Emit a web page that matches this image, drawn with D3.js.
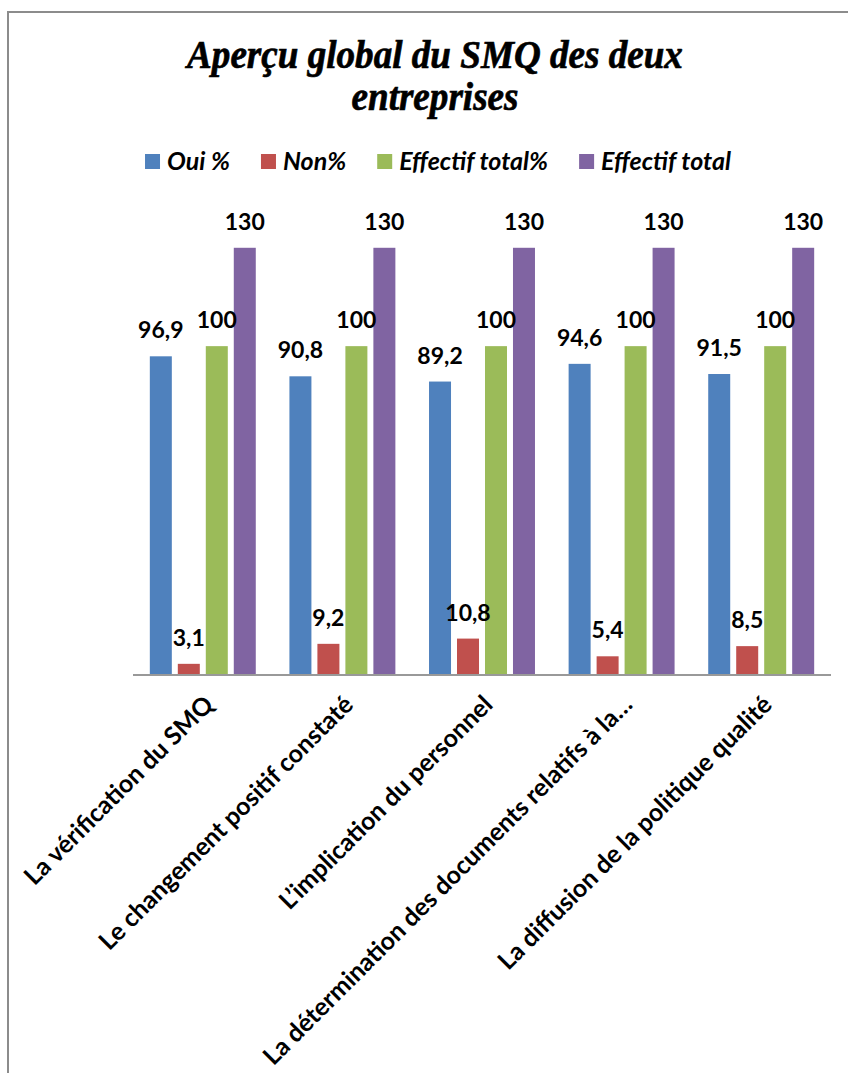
<!DOCTYPE html>
<meta charset="utf-8">
<style>
body { margin: 0; background: #fff; }
svg { display: block; }
.val { font-family: Lato, sans-serif; font-weight: bold; font-size: 23px; text-anchor: middle; fill: #000; }
.cat { font-family: Lato, sans-serif; font-weight: bold; font-size: 25px; text-anchor: end; fill: #000; }
.leg { font-family: Lato, sans-serif; font-style: italic; font-weight: bold; font-size: 25px; fill: #000; }
.title { font-family: "Liberation Serif", "Times New Roman", "DejaVu Serif", serif; font-style: italic; font-weight: bold; font-size: 41px; text-anchor: middle; fill: #000; stroke: #000; stroke-width: 0.7px; }
</style>
<svg width="848" height="1073"></svg>
<script src="https://cdn.jsdelivr.net/npm/d3@7"></script>
<script>

var categories = ["La vérification du SMQ", "Le changement positif constaté",
    "L\u2019implication du personnel", "La détermination des documents relatifs à la\u2026",
    "La diffusion de la politique qualité"];
var seriesNames = ["Oui %", "Non%", "Effectif total%", "Effectif total"];
var oui = [96.9, 90.8, 89.2, 94.6, 91.5];
var non = [3.1, 9.2, 10.8, 5.4, 8.5];
var effectifPct = [100, 100, 100, 100, 100];
var effectif = [130, 130, 130, 130, 130];
var colors = ["#4F81BD", "#C0504D", "#9BBB59", "#8064A2"];

var series = [oui, non, effectifPct, effectif];

var svg = d3.select("svg");

// chart frame (cut off at right and bottom like the source)
svg.append("rect")
    .attr("x", 8).attr("y", 12)
    .attr("width", 900).attr("height", 1100)
    .attr("fill", "none")
    .attr("stroke", "#8c8c8c")
    .attr("stroke-width", 2);

// title, horizontally squeezed
var tg = svg.append("g");
var t1 = tg.append("text").attr("class", "title").attr("x", 0).attr("y", 68)
    .text("Aperçu global du SMQ des deux");
tg.append("text").attr("class", "title").attr("x", 0).attr("y", 110)
    .text("entreprises");
var sx = 496 / t1.node().getComputedTextLength();
tg.attr("transform", "translate(435,0) scale(" + sx + ",1)");

// legend
var legend = svg.append("g");
var lx = 0;
seriesNames.forEach(function(name, i) {
    var item = legend.append("g").attr("transform", "translate(" + lx + ",0)");
    item.append("rect").attr("x", 0).attr("y", 154).attr("width", 15).attr("height", 15)
        .attr("fill", colors[i]);
    var t = item.append("text").attr("class", "leg").attr("x", 22).attr("y", 170).text(name);
    lx += 22 + t.node().getComputedTextLength() + 31;
});
lx -= 31;
legend.attr("transform", "translate(" + (141 + (594 - lx) / 2) + ",0)");

var x0 = d3.scaleBand()
    .domain(categories)
    .range([133, 831])
    .paddingInner(0.241)
    .paddingOuter(0.1205);

var x1 = d3.scaleBand()
    .domain(d3.range(series.length))
    .range([0, x0.bandwidth()])
    .paddingInner(0.214);

var y = d3.scaleLinear().domain([0, 140]).range([674, 215]);

var groups = svg.selectAll(".grp")
    .data(categories)
    .enter().append("g")
    .attr("class", "grp")
    .attr("transform", function(d) { return "translate(" + x0(d) + ",0)"; });

groups.each(function(cat, ci) {
    var g = d3.select(this);
    var vals = series.map(function(s, si) { return { si: si, v: s[ci] }; });
    g.selectAll("rect")
        .data(vals)
        .enter().append("rect")
        .attr("x", function(d) { return x1(d.si); })
        .attr("y", function(d) { return y(d.v); })
        .attr("width", x1.bandwidth())
        .attr("height", function(d) { return y(0) - y(d.v); })
        .attr("fill", function(d) { return colors[d.si]; });
    g.selectAll("text.val")
        .data(vals)
        .enter().append("text")
        .attr("class", "val")
        .attr("x", function(d) { return x1(d.si) + x1.bandwidth() / 2; })
        .attr("y", function(d) { return y(d.v) - 18; })
        .text(function(d) { return String(d.v).replace(".", ","); });
});

// axis line
svg.append("line")
    .attr("x1", x0.range()[0]).attr("x2", x0.range()[1])
    .attr("y1", y(0) + 1).attr("y2", y(0) + 1)
    .attr("stroke", "#999").attr("stroke-width", 2);

// rotated category labels
svg.selectAll(".cat")
    .data(categories)
    .enter().append("text")
    .attr("class", "cat")
    .attr("transform", function(d) {
        return "translate(" + (x0(d) + x0.bandwidth() / 2 + 6) + "," + 700 + ") rotate(-45)";
    })
    .attr("dy", "0.35em")
    .text(function(d) { return d; });

</script>
